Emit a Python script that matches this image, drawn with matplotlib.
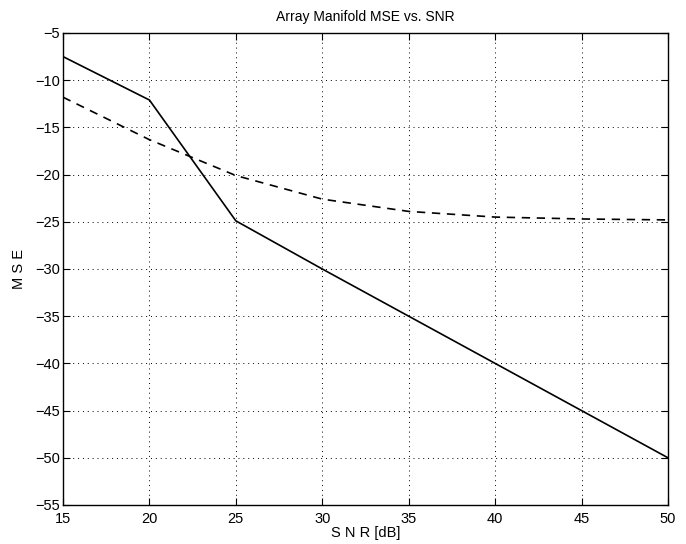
import matplotlib
matplotlib.use('Agg')
import matplotlib.pyplot as plt

# Datos
snr = [15, 20, 25, 30, 35, 40, 45, 50]
mse_solid = [-7.5, -12.1, -24.9, -30, -35, -40, -45, -50]
mse_dashed = [-11.8, -16.3, -20.1, -22.6, -23.9, -24.5, -24.7, -24.8]

xticks = [15, 20, 25, 30, 35, 40, 45, 50]
yticks = [-55, -50, -45, -40, -35, -30, -25, -20, -15, -10, -5]

plt.rcParams['font.family'] = ['Liberation Sans', 'DejaVu Sans']
plt.rcParams['font.size'] = 10.5

fig = plt.figure(figsize=(6.86, 5.44), dpi=100)
ax = fig.add_axes([63 / 686, 39 / 544, 605 / 686, 472 / 544])

ax.plot(snr, mse_solid, color='black', linestyle='-', linewidth=1.2)
ax.plot(snr, mse_dashed, color='black', linestyle=(0, (5, 4)), linewidth=1.2)

ax.set_xlim(15, 50)
ax.set_ylim(-55, -5)
ax.set_xticks(xticks)
ax.set_yticks(yticks)
ax.grid(True, color='black', linestyle=(0, (1, 4)), linewidth=0.7)
ax.tick_params(direction='in', top=True, right=True, length=5, width=0.8)
ax.tick_params(axis='x', pad=5)
ax.tick_params(axis='y', pad=2)
for s in ax.spines.values():
    s.set_linewidth(1.0)

ax.set_title('Array Manifold MSE vs. SNR', fontsize=10, pad=9)
ax.set_xlabel('S N R [dB]', labelpad=0)
ax.set_ylabel('M S E', labelpad=7)

fig.savefig('out.png', dpi=100)
